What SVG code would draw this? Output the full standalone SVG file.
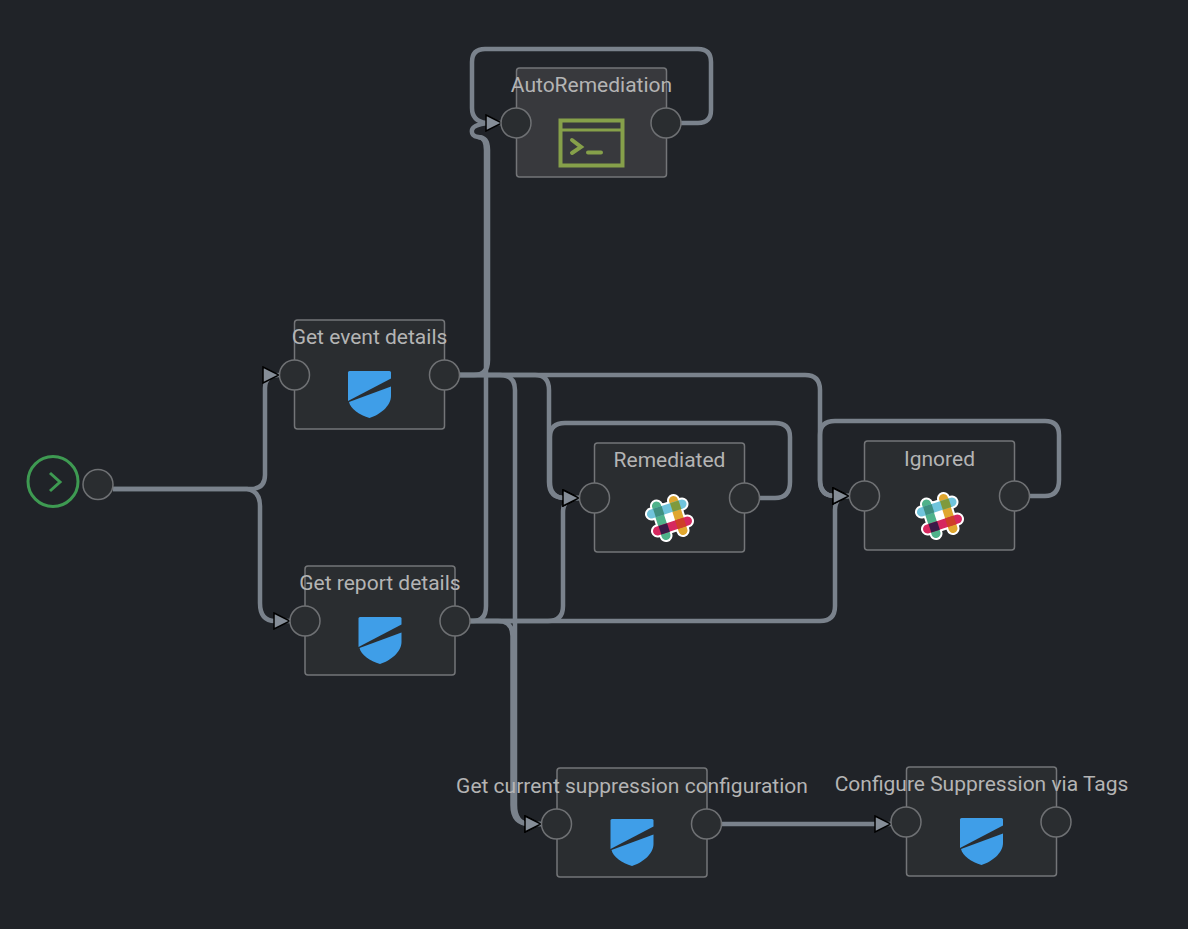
<svg xmlns="http://www.w3.org/2000/svg" width="1188" height="929" viewBox="0 0 1188 929">
<style>
.box{fill:#2a2d30;stroke:#737578;stroke-width:1.5}
.port{fill:#2a2d30;stroke:#6f7174;stroke-width:1.5}
.lbl{font-family:Roboto,"Liberation Sans",sans-serif;font-size:21px;fill:#b4b4b4;text-anchor:middle}
.c{fill:none;stroke:#7a828c;stroke-width:4.500;marker-end:url(#arr)}
.n{fill:none;stroke:#7a828c;stroke-width:4.500}
.b{fill:none;stroke-width:9;stroke-linecap:round}
</style>
<defs>
<marker id="arr" viewBox="-1 -1 18 18" refX="16" refY="8" markerWidth="18" markerHeight="18" markerUnits="userSpaceOnUse" orient="auto">
<path d="M0 0L16 8L0 16Z" fill="#858d97" stroke="#000" stroke-width="1.500"/>
</marker>
<g id="shield">
<path d="M-21.500 -22.500Q-21.500 -24 -20 -24H20Q21.500 -24 21.500 -22.500V-16.500L-21.500 6Z" fill="#3f9ee8"/>
<path d="M21.500 -8.500V1C21.500 11 10 20 0 23C-10 20 -19 14 -20.500 7Z" fill="#3f9ee8"/>
</g>
<g id="slack">
<path d="M-13 -13L-3 -15L10 -13L15 0L12 10L0 15L-11 12L-15 0Z" fill="#fff"/>
<path stroke="#fff" stroke-width="13" stroke-linecap="round" fill="none" d="M-13 -12L-3.500 17.500M4 -17.500L13.500 12.500M-18 -4L12.500 -14M-12 13L18 3"/>
<path class="b" stroke="#4fb28a" d="M-13 -12L-3.500 17.500"/>
<path class="b" stroke="#e0a72f" d="M4 -17.500L13.500 12.500"/>
<path class="b" stroke="#70c4dc" d="M-18 -4L12.500 -14"/>
<path class="b" stroke="#d6285f" d="M-12 13L18 3"/>
<rect x="-4.500" y="-4.500" width="9" height="9" fill="#3f9080" transform="translate(-10.800 -6.300) rotate(-17.900)"/>
<rect x="-4.500" y="-4.500" width="9" height="9" fill="#7f9a3c" transform="translate(6.200 -11.800) rotate(-17.900)"/>
<rect x="-4.500" y="-4.500" width="9" height="9" fill="#3a1a48" transform="translate(-5.300 10.900) rotate(-17.900)"/>
<rect x="-4.500" y="-4.500" width="9" height="9" fill="#cf3f28" transform="translate(11.200 5.400) rotate(-17.900)"/>
</g>
</defs>
<rect width="1188" height="929" fill="#202328"/>
<g id="connectors">
<path class="c" d="M113 489H250Q265 489 265 475V388Q265 375 279 375"/>
<path class="c" d="M113 489H247Q260 491 260 506V603Q260 621 275 621H290"/>
<path class="n" d="M459 375H474Q488 375 488 360V150Q488 137 478 137Q471 136 472 130Q473 125 487 123"/>
<path class="n" d="M470 621H473Q486 621 486 606V150Q486 137 478 137"/>
<path class="c" d="M681 123H698Q711 123 711 110V62Q711 49 698 49H485Q472 49 472 62V108Q472 121 486 123H502"/>
<path class="c" d="M459 375H500Q515 375 515 390V805Q515 824 530 824H541"/>
<path class="c" d="M470 621H498Q512.500 621 512.500 636V805Q512.500 824 530 824H541"/>
<path class="c" d="M459 375H535Q549 375 549 390V482Q549 498 565 498H579"/>
<path class="c" d="M470 621H548Q563 621 563 606V512Q563 498 579 498"/>
<path class="c" d="M759 498H775Q790 498 790 482V437Q790 423 775 423H565Q550 423 550 437V482Q550 498 565 498H579"/>
<path class="c" d="M459 375H805Q820 375 820 390V480Q820 496 835 496H849"/>
<path class="c" d="M470 621H820Q835 621 835 606V510Q835 496 849 496"/>
<path class="c" d="M1029 496H1045Q1059 496 1059 480V435Q1059 421 1045 421H835Q820 421 820 435V480Q820 496 835 496H849"/>
<path class="c" d="M721 824H891"/>
</g>
<g id="start">
<circle cx="53" cy="481.500" r="25" fill="none" stroke="#3e9a52" stroke-width="3"/>
<path d="M50 473L60 482L50 491" fill="none" stroke="#3e9a52" stroke-width="3"/>
<circle class="port" cx="98" cy="484.500" r="15"/>
</g>
<g id="node-autoremediation">
<rect class="box" style="fill:#38393d" x="516.500" y="68" width="150" height="109" rx="3"/>
<circle class="port" cx="516" cy="123" r="15"/>
<circle class="port" cx="666" cy="123" r="15"/>
<text class="lbl" x="591.500" y="92">AutoRemediation</text>
<g fill="none" stroke="#86a04a" stroke-width="4">
<rect x="560.500" y="120.500" width="62" height="45"/>
<path d="M560 130H623" stroke-width="3"/>
<path d="M572 140L581 147L572 153" stroke-linecap="round"/>
<path d="M588 152.500H601" stroke-linecap="round"/>
</g>
</g>
<g id="node-get-event-details">
<rect class="box" x="294.500" y="320" width="150" height="109" rx="3"/>
<circle class="port" cx="294.500" cy="375" r="15"/>
<circle class="port" cx="444.500" cy="375" r="15"/>
<text class="lbl" x="369.500" y="344">Get event details</text>
<use href="#shield" x="369.500" y="395"/>
</g>
<g id="node-get-report-details">
<rect class="box" x="305" y="566" width="150" height="109" rx="3"/>
<circle class="port" cx="305" cy="621" r="15"/>
<circle class="port" cx="455" cy="621" r="15"/>
<text class="lbl" x="380" y="590">Get report details</text>
<use href="#shield" x="380" y="641"/>
</g>
<g id="node-remediated">
<rect class="box" x="594.500" y="443" width="150" height="109" rx="3"/>
<circle class="port" cx="594.500" cy="498" r="15"/>
<circle class="port" cx="744.500" cy="498" r="15"/>
<text class="lbl" x="669.500" y="467">Remediated</text>
<use href="#slack" x="669.500" y="518"/>
</g>
<g id="node-ignored">
<rect class="box" x="864.500" y="441" width="150" height="109" rx="3"/>
<circle class="port" cx="864.500" cy="496" r="15"/>
<circle class="port" cx="1014.500" cy="496" r="15"/>
<text class="lbl" x="939.500" y="466">Ignored</text>
<use href="#slack" x="939.500" y="516"/>
</g>
<g id="node-get-current-suppression">
<rect class="box" x="557" y="768" width="150" height="109" rx="3"/>
<circle class="port" cx="556.500" cy="824" r="15"/>
<circle class="port" cx="706.500" cy="824" r="15"/>
<text class="lbl" x="632" y="793">Get current suppression configuration</text>
<use href="#shield" x="632" y="843"/>
</g>
<g id="node-configure-suppression">
<rect class="box" x="906.500" y="767" width="150" height="109" rx="3"/>
<circle class="port" cx="906" cy="822" r="15"/>
<circle class="port" cx="1056" cy="822" r="15"/>
<text class="lbl" x="981.500" y="791">Configure Suppression via Tags</text>
<use href="#shield" x="981.500" y="842"/>
</g>
</svg>
